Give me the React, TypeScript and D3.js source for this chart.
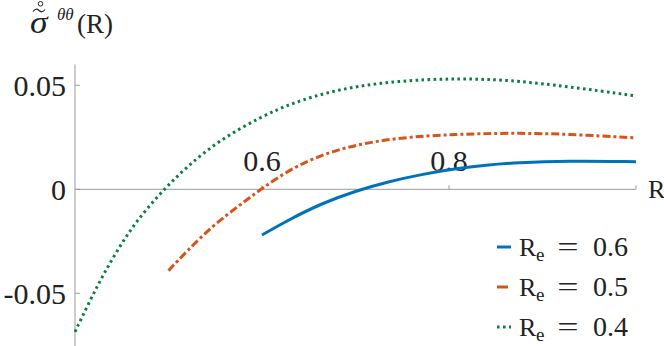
import React from "react";
import * as d3 from "d3";

// R_e = 0.6
const rBlue = [0.6, 0.628, 0.664, 0.7, 0.735, 0.771, 0.806, 0.84, 0.872, 0.926, 1.0];
const vBlue = [-0.022, -0.0148, -0.0067, -0.0008, 0.0037, 0.0072, 0.0099, 0.0117, 0.0128, 0.0137, 0.0133];

// R_e = 0.5
const rOrange = [0.5, 0.519, 0.548, 0.5765, 0.6, 0.633, 0.669, 0.705, 0.74, 0.776, 0.808, 0.84, 0.872, 0.926, 1.0];
const vOrange = [-0.0391, -0.03, -0.0172, -0.0075, 0.0005, 0.0105, 0.0175, 0.0218, 0.0243, 0.0257, 0.0264, 0.0268, 0.027, 0.0266, 0.0247];

// R_e = 0.4
const rGreen = [0.4, 0.416, 0.43, 0.448, 0.466, 0.491, 0.519, 0.555, 0.6, 0.634, 0.669, 0.705, 0.74, 0.776, 0.808, 0.84, 0.872, 0.926, 1.0];
const vGreen = [-0.0685, -0.0535, -0.0412, -0.0272, -0.0152, -0.0019, 0.0107, 0.0238, 0.0352, 0.0417, 0.0465, 0.0498, 0.0517, 0.0528, 0.0531, 0.0529, 0.0521, 0.0495, 0.0449];

const xTicks = [0.6, 0.8, 1.0];
const xTickLabels = ["0.6", "0.8", ""];
const yTicks = [0.05, 0, -0.05];
const yTickLabels = ["0.05", "0", "-0.05"];
const legendLabels = ["0.6", "0.5", "0.4"];

const series = [
  { r: rBlue, v: vBlue, color: "#0072BD", dash: null, label: legendLabels[0] },
  { r: rOrange, v: vOrange, color: "#D95319", dash: "8 3 3 3", label: legendLabels[1] },
  { r: rGreen, v: vGreen, color: "#0A8040", dash: "2.6 3.4", label: legendLabels[2] },
];

const font = "Liberation Serif, DejaVu Serif, serif";
const ink = "#222";
const axisColor = "#9a9a9a";

export default function App() {
  const x = d3.scaleLinear().domain([0.4, 1.0]).range([75, 636]);
  const y = d3.scaleLinear().domain([-0.075, 0.06]).range([345.3, 64.5]);

  const line = d3
    .line<[number, number]>()
    .x((d) => x(d[0]))
    .y((d) => y(d[1]))
    .curve(d3.curveBasis);

  const txt = { fontFamily: font, fill: ink };

  return (
    <svg
      width={664}
      height={346}
      style={{ position: "absolute", left: 0, top: 0, background: "#fff" }}
    >
      {/* axes */}
      <line x1={x(0.4)} x2={x(1.0)} y1={y(0)} y2={y(0)} stroke={axisColor} strokeWidth={1} />
      <line x1={x(0.4)} x2={x(0.4)} y1={y(0.06)} y2={346} stroke={axisColor} strokeWidth={1} />

      {xTicks.map((t, i) => (
        <g key={"xt" + i}>
          <line x1={x(t)} x2={x(t)} y1={y(0)} y2={y(0) - 4} stroke={axisColor} strokeWidth={1} />
          <text x={x(t)} y={y(0) - 18} textAnchor="middle" fontSize={30} style={txt}>
            {xTickLabels[i]}
          </text>
        </g>
      ))}
      {yTicks.map((t, i) => (
        <g key={"yt" + i}>
          <line x1={x(0.4)} x2={x(0.4) + 5} y1={y(t)} y2={y(t)} stroke={axisColor} strokeWidth={1} />
          <text x={66} y={y(t)} dy="0.34em" textAnchor="end" fontSize={30} style={txt}>
            {yTickLabels[i]}
          </text>
        </g>
      ))}

      {/* axis labels */}
      <text x={648} y={198} fontSize={26} style={txt}>R</text>
      <g>
        <text
          x={0}
          y={0}
          fontSize={31}
          fontStyle="italic"
          style={txt}
          transform="translate(30,33) scale(1.15,1)"
        >
          σ
        </text>
        <path d="M33,11.5 q3,-4 6,-1 q3,3 6,-1" fill="none" stroke={ink} strokeWidth={1.2} />
        <circle cx={40.5} cy={3.8} r={2.3} fill="none" stroke={ink} strokeWidth={1} />
        <text x={57} y={20} fontSize={17} fontStyle="italic" style={txt}>θθ</text>
        <text x={77} y={33} fontSize={27} style={txt}>(R)</text>
      </g>

      {/* curves */}
      {series.map((s, i) => (
        <path
          key={"s" + i}
          d={line(s.r.map((r, j) => [r, s.v[j]] as [number, number])) || ""}
          fill="none"
          stroke={s.color}
          strokeWidth={3}
          strokeDasharray={s.dash || undefined}
        />
      ))}

      {/* legend */}
      {series.map((s, i) => {
        const base = 256 + i * 40;
        return (
          <g key={"lg" + i}>
            <line
              x1={497}
              x2={i === 1 ? 508 : 511}
              y1={base - 9}
              y2={base - 9}
              stroke={s.color}
              strokeWidth={3}
              strokeDasharray={i === 2 ? "2.6 3.4" : undefined}
            />
            <text x={519} y={base} fontSize={26} style={txt}>R</text>
            <text x={536} y={base + 5} fontSize={19} style={txt}>e</text>
            <text
              x={0}
              y={0}
              textAnchor="middle"
              fontSize={28}
              style={txt}
              transform={`translate(568,${base}) scale(1.35,1)`}
            >
              =
            </text>
            <text x={628} y={base} textAnchor="end" fontSize={28} style={txt}>{s.label}</text>
          </g>
        );
      })}
    </svg>
  );
}
